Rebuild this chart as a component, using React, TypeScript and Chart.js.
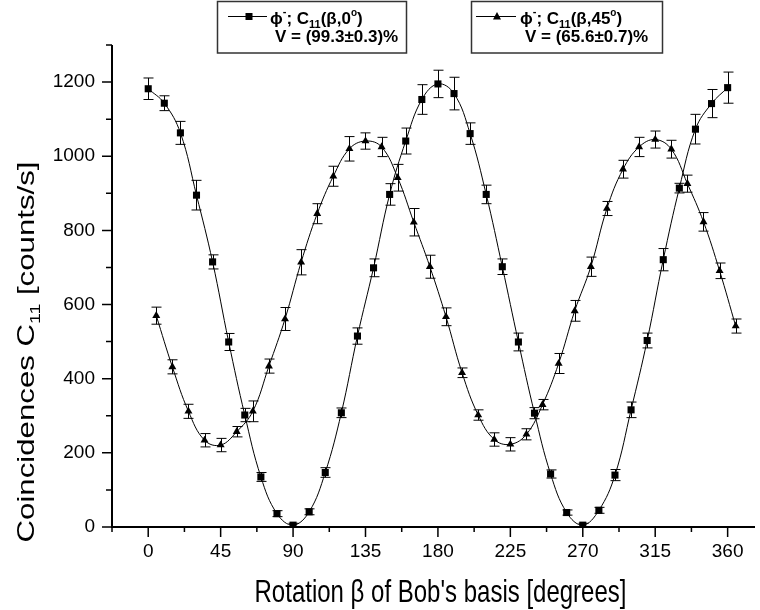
import React, { useEffect, useRef } from 'react';
import { Chart, registerables } from 'chart.js';

Chart.register(...registerables);

// ---------- data ----------
const squareAngles = [0, 10, 20, 30, 40, 50, 60, 70, 80, 90, 100, 110, 120, 130, 140, 150, 160, 170, 180, 190, 200, 210, 220, 230, 240, 250, 260, 270, 280, 290, 300, 310, 320, 330, 340, 350, 360];
const squareCounts = [1182, 1143, 1063, 895, 715, 499, 302, 135, 36, 5, 41, 147, 308, 515, 699, 897, 1041, 1153, 1195, 1169, 1061, 897, 702, 499, 307, 143, 39, 5, 45, 140, 316, 503, 721, 914, 1073, 1142, 1185];
const squareErrors = [29, 20, 31, 40, 19, 23, 18, 12, 8, 5, 8, 13, 13, 22, 24, 29, 35, 40, 37, 44, 29, 25, 21, 24, 15, 11, 7, 5, 8, 15, 21, 20, 30, 13, 40, 38, 42];

const triangleAngles = [5, 15, 25, 35, 45, 55, 65, 75, 85, 95, 105, 115, 125, 135, 145, 155, 165, 175, 185, 195, 205, 215, 225, 235, 245, 255, 265, 275, 285, 295, 305, 315, 325, 335, 345, 355, 365];
const triangleCounts = [570, 432, 312, 234, 221, 257, 312, 434, 561, 714, 845, 946, 1020, 1041, 1025, 942, 822, 702, 567, 416, 302, 236, 223, 250, 330, 441, 583, 702, 859, 965, 1025, 1045, 1019, 926, 823, 691, 542];
const triangleErrors = [23, 19, 19, 18, 18, 14, 28, 19, 31, 34, 27, 27, 33, 22, 26, 36, 37, 31, 24, 13, 14, 18, 18, 15, 14, 27, 28, 26, 19, 24, 26, 23, 24, 23, 25, 21, 19];

const xMajorTicks = [0, 45, 90, 135, 180, 225, 270, 315, 360];
const xMinorTicks = [-22.5, 22.5, 67.5, 112.5, 157.5, 202.5, 247.5, 292.5, 337.5];
const yMajorTicks = [0, 200, 400, 600, 800, 1000, 1200];
const yMinorTicks = [100, 300, 500, 700, 900, 1100, 1300];

const xTitle = "Rotation \u03B2 of Bob's basis [degrees]";
const yTitleMain = 'Coincidences C';
const yTitleSub = '11';
const yTitleEnd = ' [counts/s]';
const legend1Angle = '0';
const legend1Vis = 'V = (99.3\u00B10.3)%';
const legend2Angle = '45';
const legend2Vis = 'V = (65.6\u00B10.7)%';

const FONT = "'Liberation Sans', Arial, Helvetica, sans-serif";

type Run = { t: string; size: number; dy?: number; bold?: boolean };

function drawRuns(ctx: CanvasRenderingContext2D, x: number, y: number, runs: Run[]) {
  let cx = x;
  ctx.textAlign = 'left';
  ctx.textBaseline = 'alphabetic';
  for (const r of runs) {
    ctx.font = `${r.bold ? 'bold ' : ''}${r.size}px ${FONT}`;
    ctx.fillText(r.t, cx, y + (r.dy || 0));
    cx += ctx.measureText(r.t).width;
  }
  return cx;
}

function runsWidth(ctx: CanvasRenderingContext2D, runs: Run[]) {
  let w = 0;
  for (const r of runs) {
    ctx.font = `${r.bold ? 'bold ' : ''}${r.size}px ${FONT}`;
    w += ctx.measureText(r.t).width;
  }
  return w;
}

function legendLine1(angle: string): Run[] {
  return [
    { t: '\u03D5', size: 17, bold: true },
    { t: '-', size: 11, dy: -9, bold: true },
    { t: '; C', size: 17, bold: true },
    { t: '11', size: 11, dy: 4, bold: true },
    { t: '(\u03B2,' + angle, size: 17, bold: true },
    { t: 'o', size: 10, dy: -8, bold: true },
    { t: ')', size: 17, bold: true },
  ];
}

const customPlugin = {
  id: 'customDraw',
  beforeDatasetsDraw(chart: any) {
    const ctx: CanvasRenderingContext2D = chart.ctx;
    const xs = chart.scales.x;
    const ys = chart.scales.y;
    ctx.save();
    ctx.strokeStyle = '#000';
    ctx.lineWidth = 1;
    const series = [
      { a: squareAngles, v: squareCounts, e: squareErrors },
      { a: triangleAngles, v: triangleCounts, e: triangleErrors },
    ];
    for (const s of series) {
      for (let i = 0; i < s.a.length; i++) {
        const px = Math.round(xs.getPixelForValue(s.a[i])) + 0.5;
        const top = ys.getPixelForValue(s.v[i] + s.e[i]);
        const bot = Math.min(ys.getPixelForValue(Math.max(0, s.v[i] - s.e[i])), chart.chartArea.bottom);
        ctx.beginPath();
        ctx.moveTo(px, top);
        ctx.lineTo(px, bot);
        ctx.moveTo(px - 5, top);
        ctx.lineTo(px + 5, top);
        if (s.v[i] - s.e[i] > 0) {
          ctx.moveTo(px - 5, bot);
          ctx.lineTo(px + 5, bot);
        }
        ctx.stroke();
      }
    }
    ctx.restore();
  },
  afterDraw(chart: any) {
    const ctx: CanvasRenderingContext2D = chart.ctx;
    const xs = chart.scales.x;
    const ys = chart.scales.y;
    const area = chart.chartArea;
    ctx.save();
    ctx.strokeStyle = '#000';
    ctx.fillStyle = '#000';

    // axes lines
    ctx.lineWidth = 2;
    ctx.beginPath();
    ctx.moveTo(area.left, area.top);
    ctx.lineTo(area.left, area.bottom);
    ctx.lineTo(area.right, area.bottom);
    ctx.stroke();

    // x ticks
    ctx.lineWidth = 1.5;
    ctx.beginPath();
    for (const t of xMajorTicks) {
      const px = xs.getPixelForValue(t);
      ctx.moveTo(px, area.bottom);
      ctx.lineTo(px, area.bottom + 10);
    }
    for (const t of xMinorTicks) {
      const px = xs.getPixelForValue(t);
      ctx.moveTo(px, area.bottom);
      ctx.lineTo(px, area.bottom + 5);
    }
    // y ticks
    for (const t of yMajorTicks) {
      const py = ys.getPixelForValue(t);
      ctx.moveTo(area.left, py);
      ctx.lineTo(area.left - 10, py);
    }
    for (const t of yMinorTicks) {
      const py = ys.getPixelForValue(t);
      ctx.moveTo(area.left, py);
      ctx.lineTo(area.left - 6, py);
    }
    ctx.stroke();

    // tick labels
    ctx.font = `19px ${FONT}`;
    ctx.textAlign = 'center';
    ctx.textBaseline = 'alphabetic';
    for (const t of xMajorTicks) {
      ctx.fillText(String(t), xs.getPixelForValue(t), 557);
    }
    ctx.textAlign = 'right';
    ctx.textBaseline = 'middle';
    for (const t of yMajorTicks) {
      ctx.fillText(String(t), area.left - 17, ys.getPixelForValue(t));
    }

    // x title (stretched vertically)
    ctx.save();
    ctx.translate((area.left + area.right) / 2 + 7, 602);
    ctx.scale(1, 1.3);
    ctx.font = `24px ${FONT}`;
    ctx.textAlign = 'center';
    ctx.textBaseline = 'alphabetic';
    ctx.fillText(xTitle, 0, 0);
    ctx.restore();

    // y title (rotated, stretched along the vertical)
    const yRuns: Run[] = [
      { t: yTitleMain, size: 24 },
      { t: yTitleSub, size: 15, dy: 6 },
      { t: yTitleEnd, size: 24 },
    ];
    ctx.save();
    ctx.translate(34, 352);
    ctx.scale(1, 1.3);
    ctx.rotate(-Math.PI / 2);
    const yw = runsWidth(ctx, yRuns);
    drawRuns(ctx, -yw / 2, 0, yRuns);
    ctx.restore();

    // legend boxes
    ctx.lineWidth = 1.5;
    ctx.strokeStyle = '#333';
    ctx.strokeRect(217.5, 1.5, 189, 51.5);
    ctx.strokeRect(471.5, 1.5, 191, 51.5);

    ctx.strokeStyle = '#000';
    ctx.lineWidth = 1;
    ctx.beginPath();
    ctx.moveTo(228, 16.5);
    ctx.lineTo(267, 16.5);
    ctx.moveTo(476, 16.5);
    ctx.lineTo(516, 16.5);
    ctx.stroke();
    // legend markers
    ctx.fillRect(249 - 3.5, 16.5 - 3.5, 7, 7);
    ctx.beginPath();
    ctx.moveTo(497, 16.5 - 4.5);
    ctx.lineTo(497 + 4, 16.5 + 3);
    ctx.lineTo(497 - 4, 16.5 + 3);
    ctx.closePath();
    ctx.fill();

    drawRuns(ctx, 270, 24, legend1Line);
    drawRuns(ctx, 275, 42, [{ t: legend1Vis, size: 17, bold: true }]);
    drawRuns(ctx, 520, 24, legend2Line);
    drawRuns(ctx, 525, 42, [{ t: legend2Vis, size: 17, bold: true }]);

    ctx.restore();
  },
};

const legend1Line = legendLine1(legend1Angle);
const legend2Line = legendLine1(legend2Angle);

export default function App() {
  const canvasRef = useRef<HTMLCanvasElement | null>(null);

  useEffect(() => {
    const canvas = canvasRef.current;
    if (!canvas) return;
    const chart = new Chart(canvas, {
      type: 'line',
      data: {
        datasets: [
          {
            label: 'C11(beta,0)',
            data: squareAngles.map((a, i) => ({ x: a, y: squareCounts[i] })),
            borderColor: '#000',
            backgroundColor: '#000',
            borderWidth: 1,
            tension: 0.4,
            pointStyle: 'rect',
            pointRadius: 5,
            pointBorderWidth: 0,
            pointBackgroundColor: '#000',
            fill: false,
          },
          {
            label: 'C11(beta,45)',
            data: triangleAngles.map((a, i) => ({ x: a, y: triangleCounts[i] })),
            borderColor: '#000',
            backgroundColor: '#000',
            borderWidth: 1,
            tension: 0.4,
            pointStyle: 'triangle',
            pointRadius: 4.6,
            pointBorderWidth: 0,
            pointBackgroundColor: '#000',
            fill: false,
          },
        ],
      },
      options: {
        animation: false,
        responsive: false,
        devicePixelRatio: 1,
        layout: { padding: { left: 112, top: 45, right: 0, bottom: 83 } },
        scales: {
          x: { type: 'linear', display: false, min: -22.5, max: 377 },
          y: { type: 'linear', display: false, min: 0, max: 1300 },
        },
        plugins: {
          legend: { display: false },
          tooltip: { enabled: false },
        },
      },
      plugins: [customPlugin],
    });
    return () => chart.destroy();
  }, []);

  return (
    <div style={{ position: 'absolute', left: 0, top: 0, width: 760, height: 610, background: '#fff' }}>
      <canvas ref={canvasRef} width={760} height={610} />
    </div>
  );
}
